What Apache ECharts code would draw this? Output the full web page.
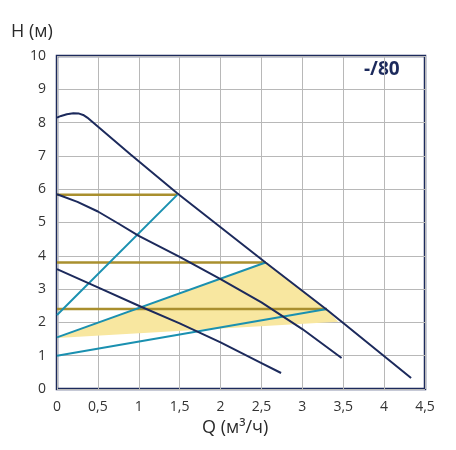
<!DOCTYPE html>
<html>
<head>
<meta charset="utf-8">
<script src="https://cdn.jsdelivr.net/npm/echarts@6/dist/echarts.min.js"></script>
<style>
  html, body { margin: 0; padding: 0; background: #fff; }
  #main { width: 456px; height: 450px; }
</style>
</head>
<body>
<div id="main"></div>
<script>
// pump curves (Q, H)
const curveMax = [[0, 8.15], [0.05, 8.2], [0.12, 8.25], [0.2, 8.28], [0.27, 8.27], [0.32, 8.23], [0.37, 8.15], [0.9, 7.04], [1.47, 5.88], [2.55, 3.8], [3.3, 2.38], [4.33, 0.33]];
const curveMid = [[0, 5.85], [0.25, 5.62], [0.5, 5.33], [0.75, 4.97], [1, 4.6], [1.5, 3.97], [2, 3.3], [2.5, 2.6], [3, 1.8], [3.48, 0.93]];
const curveMin = [[0, 3.6], [0.5, 3.05], [1, 2.5], [1.5, 1.97], [2, 1.4], [2.5, 0.78], [2.74, 0.48]];
// system lines
const sysHigh = [[0, 2.22], [1.47, 5.83]];
const sysMid = [[0, 1.55], [2.55, 3.8]];
const sysLow = [[0, 1.0], [3.3, 2.4]];
// horizontal head levels
const levelHigh = [[0, 5.83], [1.47, 5.83]];
const levelMid = [[0, 3.8], [2.55, 3.8]];
const levelLow = [[0, 2.4], [3.3, 2.4]];
// working area
const workArea = [[0, 1.55], [2.55, 3.8], [3.3, 2.38], [3.44, 2.02], [0, 1.53]];

const xTicks = ['0', '0,5', '1', '1,5', '2', '2,5', '3', '3,5', '4', '4,5'];

const navy = '#1c2a5c';
const teal = '#1a90b0';
const gold = '#a98f2e';

let chart = echarts.init(document.getElementById('main'));

function lineSeries(data, color, width) {
  return {
    type: 'line',
    data: data,
    symbol: 'none',
    lineStyle: { color: color, width: width },
    silent: true,
    z: 3
  };
}

let option = {
  animation: false,
  textStyle: { fontFamily: 'Open Sans' },
  grid: {
    left: 57, right: 31, top: 56, bottom: 61,
    show: true,
    borderColor: navy,
    borderWidth: 2.5
  },
  xAxis: {
    type: 'value',
    min: 0, max: 4.5, interval: 0.5,
    axisLine: { show: false },
    axisTick: { show: false },
    axisLabel: {
      color: '#333', fontSize: 14, margin: 11,
      formatter: v => xTicks[Math.round(v * 2)]
    },
    splitLine: { lineStyle: { color: '#b8b8b8', width: 1 } }
  },
  yAxis: {
    type: 'value',
    min: 0, max: 10, interval: 1,
    axisLine: { show: false },
    axisTick: { show: false },
    axisLabel: { color: '#333', fontSize: 14, margin: 11 },
    splitLine: { lineStyle: { color: '#b8b8b8', width: 1 } }
  },
  graphic: [
    { type: 'text', left: 11, top: 23, style: { text: 'H (м)', fontSize: 18, fill: '#2a2a2a', fontFamily: 'Open Sans' } },
    { type: 'text', left: 202, top: 419, style: { text: 'Q (м³/ч)', fontSize: 18, fill: '#2a2a2a', fontFamily: 'Open Sans' } },
    { type: 'text', left: 364, top: 60, style: { text: '-/80', fontSize: 19, fontWeight: 'bold', fill: navy, fontFamily: 'Open Sans' } }
  ],
  series: [
    {
      type: 'custom',
      silent: true,
      z: 1,
      data: [0],
      renderItem: function (params, api) {
        const pts = workArea.map(p => api.coord(p));
        return {
          type: 'polygon',
          shape: { points: pts },
          style: { fill: '#f8e7a0', stroke: 'none' }
        };
      }
    },
    lineSeries(levelHigh, gold, 2.5),
    lineSeries(levelMid, gold, 2.5),
    lineSeries(levelLow, gold, 2.5),
    lineSeries(sysHigh, teal, 2),
    lineSeries(sysMid, teal, 2),
    lineSeries(sysLow, teal, 2),
    lineSeries(curveMax, navy, 2),
    lineSeries(curveMid, navy, 2),
    lineSeries(curveMin, navy, 2)
  ]
};

chart.setOption(option);
</script>
</body>
</html>
